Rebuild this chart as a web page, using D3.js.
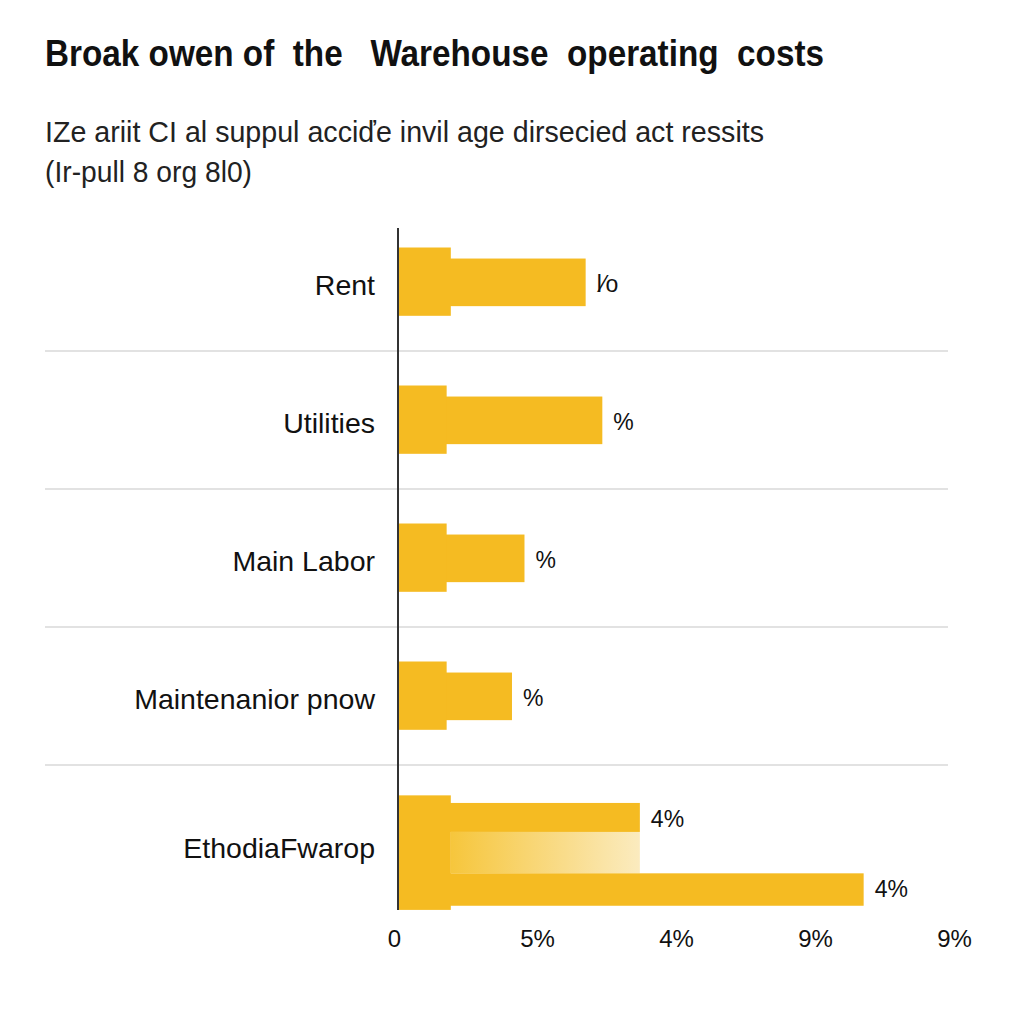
<!DOCTYPE html>
<html>
<head>
<meta charset="utf-8">
<script src="https://cdn.jsdelivr.net/npm/d3@7"></script>
<style>
  html, body { margin: 0; padding: 0; background: #fff; }
  svg { display: block; }
</style>
</head>
<body>
<svg id="chart"></svg>
<script>
// chart values
const categories = ["Rent", "Utilities", "Main Labor", "Maintenanior pnow", "EthodiaFwarop"];
const stubValues = [0.38, 0.35, 0.35, 0.35, 0.38];
const barValues = [1.35, 1.47, 0.91, 0.82, 1.74];
const valueLabels = ["l\u2044o", "%", "%", "%", "4%"];
// the last row carries a faded segment and a second bar
const fadeValues = [{ cat: "EthodiaFwarop", from: 0.38, to: 1.74 }];
const extraBars = [{ cat: "EthodiaFwarop", value: 3.35, label: "4%" }];
const tickValues = [0, 1, 2, 3, 4];
const tickLabels = ["0", "5%", "4%", "9%", "9%"];

const title = "Broak owen of  the   Warehouse  operating  costs";
const subtitle = ["IZe ariit CI al suppul acci\u010fe invil age dirsecied act ressits", "(Ir-pull 8 org 8l0)"];

const width = 1024, height = 1024,
    barColor = "#f5bb22",
    font = "'Liberation Sans', Arial, sans-serif";

let svg = d3.select("#chart")
    .attr("width", width)
    .attr("height", height)
    .attr("viewBox", [0, 0, width, height].join(" "));

let defs = svg.append("defs");
let grad = defs.append("linearGradient")
    .attr("id", "fade")
    .attr("x1", "0%").attr("x2", "100%")
    .attr("y1", "0%").attr("y2", "0%");
grad.append("stop").attr("offset", "0%").attr("stop-color", "#f6c63c");
grad.append("stop").attr("offset", "100%").attr("stop-color", "#fbebbf");

// titles
svg.append("text")
    .attr("x", 45).attr("y", 66)
    .attr("font-family", font)
    .attr("font-weight", "bold")
    .attr("font-size", 36)
    .attr("textLength", 779)
    .attr("lengthAdjust", "spacingAndGlyphs")
    .style("white-space", "pre")
    .attr("fill", "#111")
    .text(title);

svg.append("g")
    .selectAll("text")
    .data(subtitle)
    .enter()
    .append("text")
    .attr("x", 45)
    .attr("y", (d, i) => 142 + i * 40)
    .attr("font-family", font)
    .attr("font-size", 29)
    .attr("textLength", (d, i) => i ? 207 : 719)
    .attr("lengthAdjust", "spacingAndGlyphs")
    .attr("fill", "#222")
    .text((d) => d);

// scales
let x = d3.scaleLinear().domain([0, 4]).range([398, 954]);
let y = d3.scaleBand().domain(categories).range([213, 903]);
let bw = y.bandwidth();

// separators between rows
svg.append("g")
    .selectAll("line")
    .data(categories.slice(1))
    .enter()
    .append("line")
    .attr("x1", 45).attr("x2", 948)
    .attr("y1", (d) => y(d)).attr("y2", (d) => y(d))
    .attr("stroke", "#e2e2e2")
    .attr("stroke-width", 2);

let rows = categories.map((c, i) => ({ cat: c, stub: stubValues[i], value: barValues[i], label: valueLabels[i], grouped: extraBars.some((e) => e.cat === c) }));

// top of main bar and its height per row
let mainTop = (r) => r.grouped ? y(r.cat) + bw * 0.275 : y(r.cat) + bw * 0.33;
let mainH = (r) => r.grouped ? bw * 0.21 : bw * 0.345;
let stubTop = (r) => r.grouped ? y(r.cat) + bw * 0.22 : y(r.cat) + bw * 0.25;
let stubH = (r) => r.grouped ? bw * 0.83 : bw * 0.495;

let bars = svg.append("g");

// faded segment
bars.selectAll("rect.fade")
    .data(fadeValues)
    .enter()
    .append("rect")
    .attr("class", "fade")
    .attr("x", (d) => x(d.from))
    .attr("width", (d) => x(d.to) - x(d.from))
    .attr("y", (d) => y(d.cat) + bw * 0.485)
    .attr("height", bw * 0.3)
    .attr("fill", "url(#fade)");

// main bars
bars.selectAll("rect.main")
    .data(rows)
    .enter()
    .append("rect")
    .attr("class", "main")
    .attr("x", x(0))
    .attr("width", (d) => x(d.value) - x(0))
    .attr("y", mainTop)
    .attr("height", mainH)
    .attr("fill", barColor);

// second bar of the last row
bars.selectAll("rect.extra")
    .data(extraBars)
    .enter()
    .append("rect")
    .attr("class", "extra")
    .attr("x", x(0))
    .attr("width", (d) => x(d.value) - x(0))
    .attr("y", (d) => y(d.cat) + bw * 0.785)
    .attr("height", bw * 0.235)
    .attr("fill", barColor);

// stubs
bars.selectAll("rect.stub")
    .data(rows)
    .enter()
    .append("rect")
    .attr("class", "stub")
    .attr("x", x(0))
    .attr("width", (d) => x(d.stub) - x(0))
    .attr("y", stubTop)
    .attr("height", stubH)
    .attr("fill", barColor);

// category labels
svg.append("g")
    .selectAll("text")
    .data(rows)
    .enter()
    .append("text")
    .attr("x", 375)
    .attr("y", (d) => d.grouped ? y(d.cat) + bw * 0.6 : y(d.cat) + bw / 2 + 3)
    .attr("dy", "0.35em")
    .attr("text-anchor", "end")
    .attr("font-family", font)
    .attr("font-size", 28.5)
    .attr("fill", "#111")
    .text((d) => d.cat);

// value labels
let vals = rows.map((r) => ({ x: r.value, y: mainTop(r) + mainH(r) / 2 + 2, label: r.label }))
    .concat(extraBars.map((e) => ({ x: e.value, y: y(e.cat) + bw * 0.9, label: e.label })));

svg.append("g")
    .selectAll("text")
    .data(vals)
    .enter()
    .append("text")
    .attr("x", (d) => x(d.x) + 11)
    .attr("y", (d) => d.y)
    .attr("dy", "0.35em")
    .attr("font-family", font)
    .attr("font-size", 23)
    .attr("fill", "#111")
    .text((d) => d.label);

// vertical axis line
svg.append("line")
    .attr("x1", x(0)).attr("x2", x(0))
    .attr("y1", 228).attr("y2", 910)
    .attr("stroke", "#333")
    .attr("stroke-width", 2);

// bottom axis
let xAxis = d3.axisBottom(x)
    .tickValues(tickValues)
    .tickFormat((d, i) => tickLabels[i])
    .tickSize(0)
    .tickPadding(0);

let ax = svg.append("g")
    .attr("transform", "translate(0, 930)")
    .call(xAxis);
ax.select(".domain").remove();
ax.selectAll("text")
    .attr("font-family", font)
    .attr("font-size", 24)
    .attr("fill", "#111");
ax.select(".tick text").attr("dx", -4);
</script>
</body>
</html>
